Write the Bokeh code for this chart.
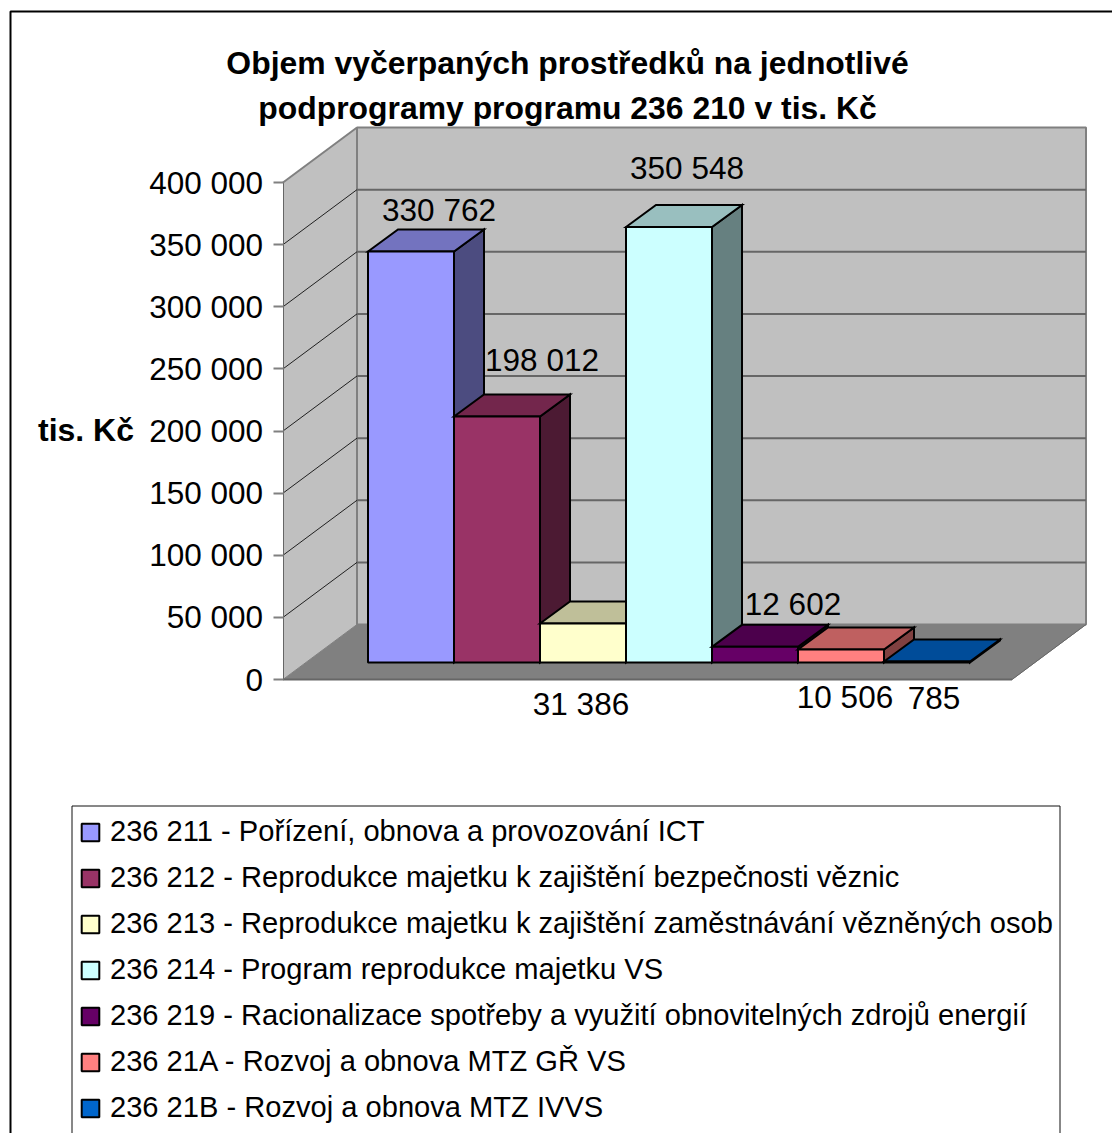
from bokeh.plotting import figure
from bokeh.models import (Range1d, Label, Legend, LegendItem, BoxAnnotation, FixedTicker,
                          ColumnDataSource)
from bokeh.core.properties import value
from bokeh.embed import file_html
from bokeh.resources import INLINE

# ---- data ----
title_lines = ["Objem vyčerpaných prostředků na jednotlivé",
               "podprogramy programu 236 210 v tis. Kč"]
axis_title = "tis. Kč"
categories = ["236 211 - Pořízení, obnova a provozování ICT",
              "236 212 - Reprodukce majetku k zajištění bezpečnosti věznic",
              "236 213 - Reprodukce majetku k zajištění zaměstnávání vězněných osob",
              "236 214 - Program reprodukce majetku VS",
              "236 219 - Racionalizace spotřeby a využití obnovitelných zdrojů energií",
              "236 21A - Rozvoj a obnova MTZ GŘ VS",
              "236 21B - Rozvoj a obnova MTZ IVVS"]
values = [330762, 198012, 31386, 350548, 12602, 10506, 785]
ticks = [0, 50000, 100000, 150000, 200000, 250000, 300000, 350000, 400000]

# ---- styles / layout ----
front_colors = [(0x99,0x99,0xFF), (0x99,0x33,0x66), (0xFF,0xFF,0xCC), (0xCC,0xFF,0xFF),
                (0x66,0x00,0x66), (0xFF,0x80,0x80), (0x00,0x66,0xCC)]
label_dx = [28, 45, -2, 18, 38, 4, 7]          # px offset of value labels from bar centre
label_dy = [-42, -56, 80, -59, -43, 48, 36]    # px offset from the bar's front top

FONT = "Liberation Sans"
W, H = 1112, 1133
PX_X = 86.0            # px per category
PX_Y = 1.2425 / 1000   # px per value unit
ORIGIN_X, ORIGIN_Y = 367.5, 679   # px of first bar's left edge / of value 0

def ux(px): return px / PX_X
def uy(px): return px / PX_Y

wall_dx, wall_dy = ux(74), uy(55)
bar_dx, bar_dy = ux(30), uy(22)
base = uy(17)
x0 = ux(282.5 - ORIGIN_X)
floor_w = ux(729)
y_top = ticks[-1] + wall_dy

def shade(c, f):
    return "#%02x%02x%02x" % tuple(int(round(v * f)) for v in c)
def fmt(v):
    return f"{v:,}".replace(",", " ")

p = figure(width=W, height=H, output_backend="svg", toolbar_location=None,
           x_range=Range1d(ux(-ORIGIN_X), ux(W - ORIGIN_X)),
           y_range=Range1d(uy(ORIGIN_Y - H), uy(ORIGIN_Y)),
           min_border=0, x_axis_type=None, tools="")
p.grid.visible = False
p.outline_line_color = None
p.background_fill_color = None

# axis
ax = p.yaxis[0]
ax.fixed_location = x0
ax.ticker = FixedTicker(ticks=ticks)
ax.major_label_overrides = {t: fmt(t) for t in ticks}
ax.bounds = (0, ticks[-1])
ax.axis_line_color = "#666666"
ax.axis_line_width = 1
ax.major_tick_line_color = "#808080"
ax.major_tick_line_width = 2
ax.major_tick_out = 10
ax.major_tick_in = 0
ax.minor_tick_line_color = None
ax.major_label_standoff = 10
ax.major_label_text_font = FONT
ax.major_label_text_font_size = "31.5px"
ax.major_label_text_color = "black"

# walls and floor
right_back = x0 + floor_w + wall_dx
p.patch([x0, x0 + wall_dx, x0 + wall_dx, x0], [0, wall_dy, y_top, ticks[-1]],
        fill_color="#C0C0C0", line_color=None)
p.patch([x0, x0 + wall_dx, right_back, x0 + floor_w], [0, wall_dy, wall_dy, 0],
        fill_color="#808080", line_color="#808080", line_width=1)
p.patch([x0 + wall_dx, right_back, right_back, x0 + wall_dx],
        [wall_dy, wall_dy, y_top, y_top],
        fill_color="#C0C0C0", line_color="#808080", line_width=2)
p.line([x0, x0 + wall_dx], [ticks[-1], y_top], line_color="#808080", line_width=2)
p.line([x0, x0 + floor_w], [0, 0], line_color="#666666", line_width=2)
p.line([x0 + floor_w, right_back], [0, wall_dy], line_color="#666666", line_width=1)
for t in ticks[1:-1]:
    p.line([x0, x0 + wall_dx], [t, t + wall_dy], line_color="#202020", line_width=1)
    p.line([x0 + wall_dx, right_back], [t + wall_dy, t + wall_dy], line_color="#666666", line_width=2)

# bars
items = []
for i, (v, c, cat) in enumerate(zip(values, front_colors, categories)):
    l, r, b, t = i, i + 1, base, base + v
    p.patch([r, r + bar_dx, r + bar_dx, r], [b, b + bar_dy, t + bar_dy, t],
            fill_color=shade(c, 0.5), line_color="black", line_width=2, line_join="miter")
    p.patch([l, l + bar_dx, r + bar_dx, r], [t, t + bar_dy, t + bar_dy, t],
            fill_color=shade(c, 0.75), line_color="black", line_width=2, line_join="miter")
    q = p.quad(left=[l], right=[r], bottom=[b], top=[t],
               fill_color=shade(c, 1), line_color="black", line_width=2)
    items.append(LegendItem(label=cat, renderers=[q]))

# value labels
src = ColumnDataSource(dict(x=[i + 0.5 for i in range(len(values))],
                            y=[base + v for v in values],
                            t=[fmt(v) for v in values],
                            dx=label_dx, dy=label_dy))
p.text(x="x", y="y", text="t", x_offset="dx", y_offset="dy", source=src,
       text_font=value(FONT), text_font_size="31.5px", text_align="center",
       text_baseline="middle", text_color="black")

# chrome
p.add_layout(BoxAnnotation(left=10, right=W + 20, top=11, bottom=H + 20,
                           left_units="canvas", right_units="canvas", top_units="canvas", bottom_units="canvas",
                           fill_color=None, fill_alpha=0, line_color="black", line_alpha=1, line_width=2, level="underlay"))
p.add_layout(BoxAnnotation(left=71.5, right=1059.5, top=805.5, bottom=H + 5,
                           left_units="canvas", right_units="canvas", top_units="canvas", bottom_units="canvas",
                           fill_color=None, fill_alpha=0, line_color="#111111", line_alpha=1, line_width=1, level="underlay"))

for line, cy in zip(title_lines, [62, 107]):
    p.add_layout(Label(x=567, y=cy, x_units="canvas", y_units="canvas", text=line,
                       text_font=FONT, text_font_size="31.9px", text_font_style="bold",
                       text_align="center", text_baseline="middle", text_color="black"))
p.add_layout(Label(x=85.5, y=429, x_units="canvas", y_units="canvas", text=axis_title,
                   text_font=FONT, text_font_size="32px", text_font_style="bold",
                   text_align="center", text_baseline="middle", text_color="black"))

legend = Legend(items=items, location=(79, 9), padding=10, margin=0,
                spacing=13, glyph_width=22, glyph_height=22, label_height=20,
                label_standoff=9, label_text_font=FONT, label_text_font_size="29.1px",
                label_text_color="black", border_line_color=None,
                background_fill_color=None, background_fill_alpha=0)
p.add_layout(legend, "center")

open("out.html", "w").write(file_html(p, INLINE))
